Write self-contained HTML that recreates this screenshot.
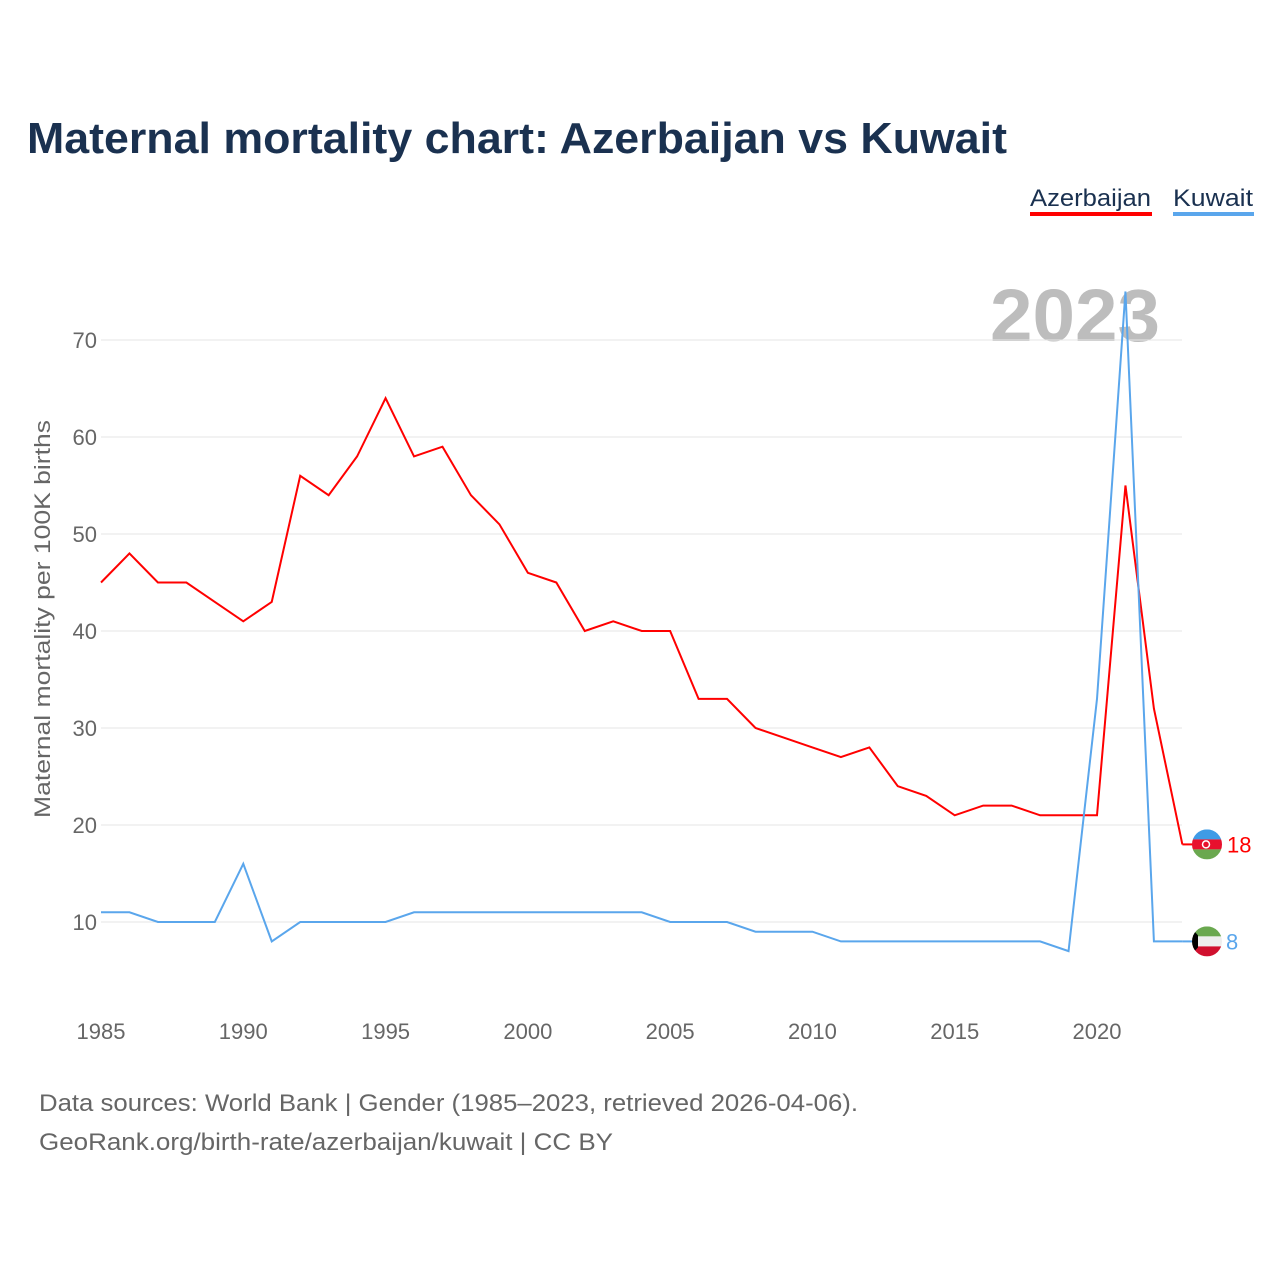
<!DOCTYPE html>
<html><head><meta charset="utf-8"><style>
body{margin:0;background:#fff;}
svg text{font-family:"Liberation Sans",sans-serif;}
</style></head><body>
<svg id="chart" width="1280" height="1280" xmlns="http://www.w3.org/2000/svg">
<text x="27" y="153" font-size="44" font-weight="bold" fill="#1a3150" textLength="980" lengthAdjust="spacingAndGlyphs">Maternal mortality chart: Azerbaijan vs Kuwait</text>
<g><text x="1030" y="206" font-size="24" fill="#1a3150" textLength="121" lengthAdjust="spacingAndGlyphs">Azerbaijan</text><rect x="1030" y="212" width="122" height="4" fill="#ff0000"/></g>
<g><text x="1173" y="206" font-size="24" fill="#1a3150" textLength="80" lengthAdjust="spacingAndGlyphs">Kuwait</text><rect x="1173" y="212" width="81" height="4" fill="#5aa6ec"/></g>
<text x="990" y="341" font-size="74" font-weight="bold" fill="#bdbdbd" textLength="170" lengthAdjust="spacingAndGlyphs">2023</text>
<g id="grid"></g><g id="xt"></g><g id="series"></g>
<text transform="translate(50,619) rotate(-90)" text-anchor="middle" font-size="22" fill="#666" textLength="398" lengthAdjust="spacingAndGlyphs">Maternal mortality per 100K births</text>
<g id="ends"></g>
<text x="39" y="1111" font-size="24" fill="#666" textLength="819" lengthAdjust="spacingAndGlyphs">Data sources: World Bank | Gender (1985–2023, retrieved 2026-04-06).</text>
<text x="39" y="1150" font-size="24" fill="#666" textLength="574" lengthAdjust="spacingAndGlyphs">GeoRank.org/birth-rate/azerbaijan/kuwait | CC BY</text>
</svg>
<script>
const years=[];for(let y=1985;y<=2023;y++)years.push(y);
const azerbaijan=[45,48,45,45,43,41,43,56,54,58,64,58,59,54,51,46,45,40,41,40,40,33,33,30,29,28,27,28,24,23,21,22,22,21,21,21,55,32,18];
const kuwait=[11,11,10,10,10,16,8,10,10,10,10,11,11,11,11,11,11,11,11,11,10,10,10,9,9,9,8,8,8,8,8,8,8,8,7,33,75,8,8];
const yTicks=[10,20,30,40,50,60,70];
const xTicks=[1985,1990,1995,2000,2005,2010,2015,2020];
const NS="http://www.w3.org/2000/svg";
const x=v=>101+(v-1985)*996/35;
const y=v=>1019-v*9.7;
function mk(t,a,p){const e=document.createElementNS(NS,t);for(const k in a)e.setAttribute(k,a[k]);document.getElementById(p).appendChild(e);return e;}
yTicks.forEach(v=>{
 const l=mk('line',{x1:101,x2:1182,y1:y(v),y2:y(v),stroke:'#e6e6e6','stroke-width':1},'grid');
 
 
 const t=mk('text',{x:97,y:y(v)+8,'text-anchor':'end','font-size':22,fill:'#666'},'grid');t.textContent=v;
 
 
});
xTicks.forEach(v=>{
 const t=mk('text',{x:x(v),y:1039,'text-anchor':'middle','font-size':22,fill:'#666'},'xt');t.textContent=v;
 
 
});
function line(d,c,n){
 const pts=d.map((v,i)=>x(years[i])+','+y(v)).join(' ');
 const p=mk('polyline',{points:pts,fill:'none',stroke:c,'stroke-width':2},'series');
 
 
 const lx=x(2023),ly=y(d[d.length-1]);
 const s=mk('line',{x1:lx,x2:lx+15,y1:ly,y2:ly,stroke:c,'stroke-width':2},'series');
 
 
 return ly;
}
const ay=line(azerbaijan,'#ff0000','azerbaijan-line');
const ky=line(kuwait,'#5aa6ec','kuwait-line');
const ends=document.getElementById('ends');
ends.insertAdjacentHTML('beforeend',`
<g><clipPath id="ca"><circle cx="1207" cy="${ay}" r="15"/></clipPath><g clip-path="url(#ca)"><rect x="1190" y="${ay-15}" width="34" height="10" fill="#3f9be6"/><rect x="1190" y="${ay-5}" width="34" height="10" fill="#e8112d"/><rect x="1190" y="${ay+5}" width="34" height="10" fill="#6aa84f"/></g><circle cx="1206" cy="${ay}" r="3.5" fill="none" stroke="#fff" stroke-width="1.5"/></g>
<text x="1227" y="${ay+8}" font-size="22" fill="#ff0000">18</text>
<g><clipPath id="ck"><circle cx="1207" cy="${ky}" r="15"/></clipPath><g clip-path="url(#ck)"><rect x="1190" y="${ky-15}" width="34" height="10" fill="#6aa84f"/><rect x="1190" y="${ky-5}" width="34" height="10" fill="#eee"/><rect x="1190" y="${ky+5}" width="34" height="10" fill="#d0102e"/><polygon points="1190,${ky-15} 1198,${ky-6} 1198,${ky+6} 1190,${ky+15}" fill="#000"/></g></g>
<text x="1226" y="${ky+8}" font-size="22" fill="#5aa6ec">8</text>`);
</script>
</body></html>
